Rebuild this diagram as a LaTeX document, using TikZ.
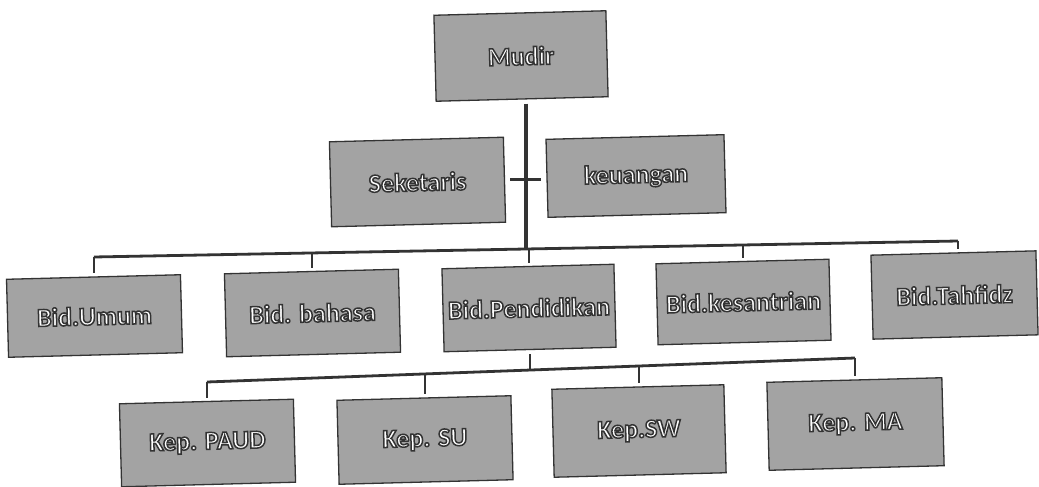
\documentclass[tikz,border=0pt]{standalone}
\usepackage{fontspec}
\setmainfont{Carlito}
\newcommand{\lbl}[1]{{\bfseries\color{white}\special{pdf:literal direct 2 Tr 1.5 w 0.2 0.2 0.2 RG}#1}}
\begin{document}
\begin{tikzpicture}[x=1pt,y=-1pt,
  box/.style={draw=black!80, line width=1.3pt, fill=black!36,
    font=\fontsize{26}{30}\selectfont, minimum width=174pt, minimum height=83pt,
    inner sep=0pt, rotate=1.5},
  link/.style={line width=2.8pt, draw=black!80}]
\useasboundingbox (0,0) rectangle (1039,487);

% level 0 and staff
\node[box, minimum width=172pt, minimum height=86pt] (mudir) at (521,56) {\lbl{Mudir}};
\node[box, minimum height=85pt] (sek) at (417.5,182) {\lbl{Seketaris}};
\node[box, minimum width=178pt, minimum height=78pt] (keu) at (636,176) {\lbl{keuangan}};

% level 1
\node[box, minimum height=78pt] (umum) at (94.5,316) {\lbl{Bid.Umum}};
\node[box] (bahasa) at (312.5,313) {\lbl{Bid. bahasa}};
\node[box, minimum width=172pt] (pend) at (529,308) {\lbl{Bid.Pendidikan}};
\node[box, minimum width=173pt, minimum height=81pt] (kes) at (743.5,302) {\lbl{Bid.kesantrian}};
\node[box, minimum width=165pt, minimum height=84pt] (tah) at (954.5,295) {\lbl{Bid.Tahfidz}};

% level 2
\node[box] (paud) at (207.5,443) {\lbl{Kep. PAUD}};
\node[box, minimum height=84pt] (su) at (425,440) {\lbl{Kep. SU}};
\node[box, minimum width=172pt, minimum height=88pt] (sw) at (639,431) {\lbl{Kep.SW}};
\node[box, minimum width=175pt, minimum height=88pt] (ma) at (855.5,424) {\lbl{Kep. MA}};

% bus coordinates
\coordinate (bu) at (94,257);
\coordinate (bb) at (312,253);
\coordinate (bm) at (526,249);
\coordinate (bp) at (529,249);
\coordinate (bk) at (743,245);
\coordinate (bt) at (958,241);

\coordinate (ca) at (207,382);
\coordinate (cs) at (425,374);
\coordinate (cp) at (530,370);
\coordinate (cw) at (639,366);
\coordinate (cm) at (855,358);

% connectors
\draw[link, line width=3.4pt, shorten <=4pt] (mudir.south -| bm) -- (bm);
\draw[link, shorten <=5pt, shorten >=5pt] (sek.east) -- (sek.east -| keu.west);
\draw[link] (bu) -- (bt);
\draw[link, shorten >=3pt] (bu) -- (bu |- umum.north);
\draw[link, shorten >=3pt] (bb) -- (bb |- bahasa.north);
\draw[link, shorten >=3pt] (bp) -- (bp |- pend.north);
\draw[link, shorten >=3pt] (bk) -- (bk |- kes.north);
\draw[link, shorten >=3pt] (bt) -- (bt |- tah.north);

\draw[link, shorten <=4pt] (pend.south -| cp) -- (cp);
\draw[link] (ca) -- (cm);
\draw[link, shorten >=3pt] (ca) -- (ca |- paud.north);
\draw[link, shorten >=3pt] (cs) -- (cs |- su.north);
\draw[link, shorten >=3pt] (cw) -- (cw |- sw.north);
\draw[link, shorten >=3pt] (cm) -- (cm |- ma.north);
\end{tikzpicture}
\end{document}
